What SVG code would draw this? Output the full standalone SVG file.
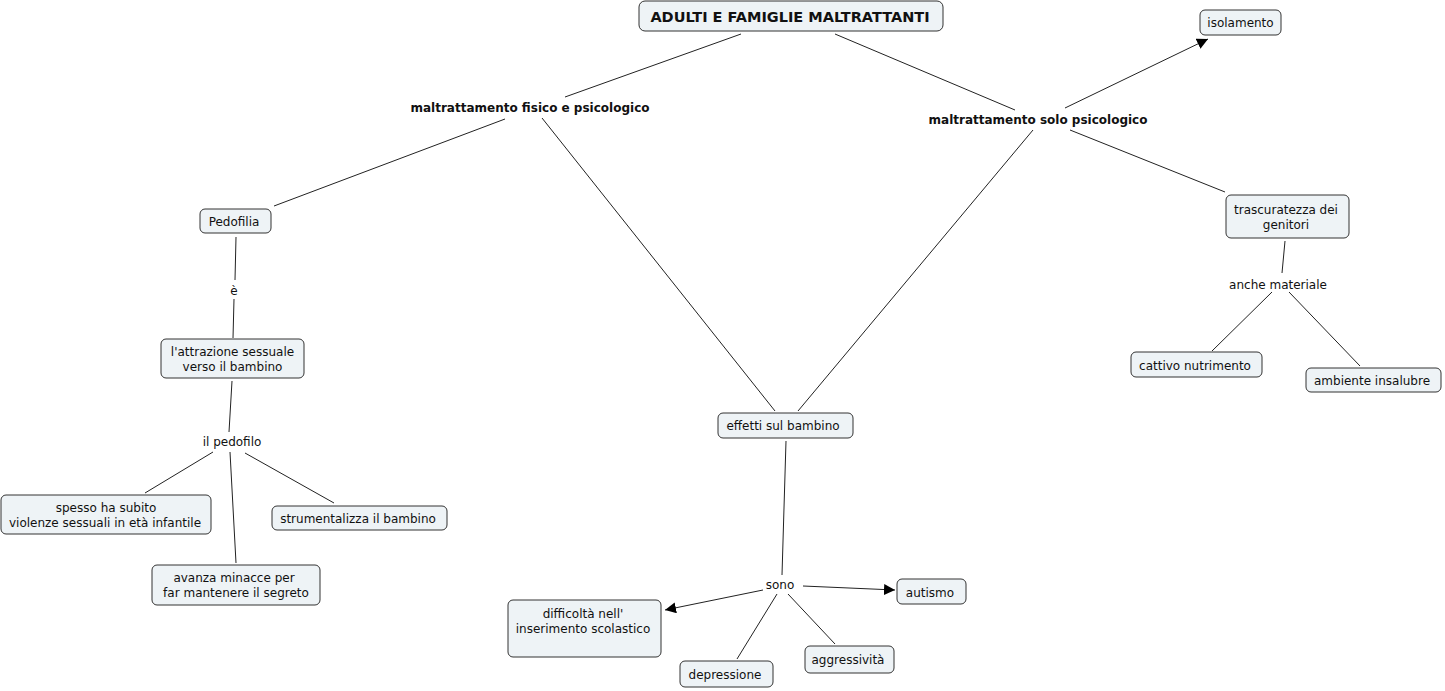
<svg xmlns="http://www.w3.org/2000/svg" width="1445" height="691" viewBox="0 0 1445 691">
<style>
.n rect{fill:#eef3f6;stroke:#333;stroke-width:1}
text{font-family:"DejaVu Sans","Verdana",sans-serif;font-size:12px;fill:#111;text-anchor:middle}
.b{font-weight:bold}
.t{font-size:14.5px;font-weight:bold}
#connectors line{stroke:#222;stroke-width:1}
</style>
<defs>
<marker id="ar" viewBox="0 0 10 10" refX="10" refY="5" markerWidth="11" markerHeight="11" markerUnits="userSpaceOnUse" orient="auto"><path d="M0,0L10,5L0,10z" fill="#000"/></marker>
</defs>
<rect width="1445" height="691" fill="#fff"/>
<g id="connectors">
<line x1="741" y1="34" x2="565" y2="97"/>
<line x1="835" y1="34" x2="1015" y2="110"/>
<line x1="1065" y1="108" x2="1208" y2="39" marker-end="url(#ar)"/>
<line x1="505" y1="119" x2="274" y2="206"/>
<line x1="542" y1="118" x2="775" y2="411"/>
<line x1="1033" y1="130" x2="798" y2="411"/>
<line x1="1070" y1="130" x2="1225" y2="192"/>
<line x1="236" y1="237" x2="235" y2="280"/>
<line x1="234" y1="299" x2="233" y2="338"/>
<line x1="232" y1="381" x2="229" y2="432"/>
<line x1="213" y1="452" x2="145" y2="493"/>
<line x1="230" y1="452" x2="236" y2="563"/>
<line x1="245" y1="453" x2="334" y2="503"/>
<line x1="786" y1="441" x2="782" y2="575"/>
<line x1="763" y1="590" x2="665" y2="610" marker-end="url(#ar)"/>
<line x1="803" y1="586" x2="895" y2="590" marker-end="url(#ar)"/>
<line x1="777" y1="594" x2="737" y2="659"/>
<line x1="788" y1="594" x2="835" y2="644"/>
<line x1="1285" y1="241" x2="1282" y2="273"/>
<line x1="1272" y1="292" x2="1212" y2="351"/>
<line x1="1289" y1="292" x2="1360" y2="366"/>
</g>
<g id="title" class="n"><rect x="639" y="1" width="304" height="30" rx="6"/><text class="t" x="790" y="21.5">ADULTI E FAMIGLIE MALTRATTANTI</text></g>
<g id="isolamento" class="n"><rect x="1200" y="10" width="81" height="25" rx="5"/><text x="1240.5" y="27">isolamento</text></g>
<g id="fisico"><text class="b" x="530" y="112">maltrattamento fisico e psicologico</text></g>
<g id="solo"><text class="b" x="1038" y="124">maltrattamento solo psicologico</text></g>
<g id="pedofilia" class="n"><rect x="200" y="209" width="71" height="24" rx="5"/><text x="234" y="226">Pedofilia</text></g>
<g id="e"><text x="234" y="295">è</text></g>
<g id="attrazione" class="n"><rect x="161" y="339" width="143" height="39" rx="5"/><text x="232.5" y="356">l'attrazione sessuale</text><text x="232.5" y="371">verso il bambino</text></g>
<g id="ilpedofilo"><text x="232" y="446">il pedofilo</text></g>
<g id="spesso" class="n"><rect x="1" y="495" width="210" height="39" rx="5"/><text x="106" y="512">spesso ha subito</text><text x="105" y="527">violenze sessuali in età infantile</text></g>
<g id="strumentalizza" class="n"><rect x="272" y="506" width="175" height="24" rx="5"/><text x="358" y="523">strumentalizza il bambino</text></g>
<g id="avanza" class="n"><rect x="152" y="565" width="168" height="40" rx="5"/><text x="234" y="582">avanza minacce per</text><text x="236" y="597">far mantenere il segreto</text></g>
<g id="effetti" class="n"><rect x="718" y="413" width="135" height="25" rx="5"/><text x="783" y="430">effetti sul bambino</text></g>
<g id="sono"><text x="780" y="589">sono</text></g>
<g id="difficolta" class="n"><rect x="508" y="600" width="153" height="57" rx="5"/><text x="583" y="618">difficoltà nell'</text><text x="583" y="633">inserimento scolastico</text></g>
<g id="autismo" class="n"><rect x="897" y="579" width="69" height="25" rx="5"/><text x="930" y="597">autismo</text></g>
<g id="depressione" class="n"><rect x="680" y="661" width="93" height="26" rx="5"/><text x="725" y="679">depressione</text></g>
<g id="aggressivita" class="n"><rect x="805" y="646" width="89" height="27" rx="5"/><text x="848" y="664">aggressività</text></g>
<g id="trascuratezza" class="n"><rect x="1226" y="195" width="123" height="43" rx="5"/><text x="1286" y="214">trascuratezza dei</text><text x="1286" y="229">genitori</text></g>
<g id="anche"><text x="1278" y="289">anche materiale</text></g>
<g id="cattivo" class="n"><rect x="1131" y="352" width="131" height="25" rx="5"/><text x="1195" y="370">cattivo nutrimento</text></g>
<g id="ambiente" class="n"><rect x="1306" y="368" width="135" height="24" rx="5"/><text x="1372" y="385">ambiente insalubre</text></g>
</svg>
